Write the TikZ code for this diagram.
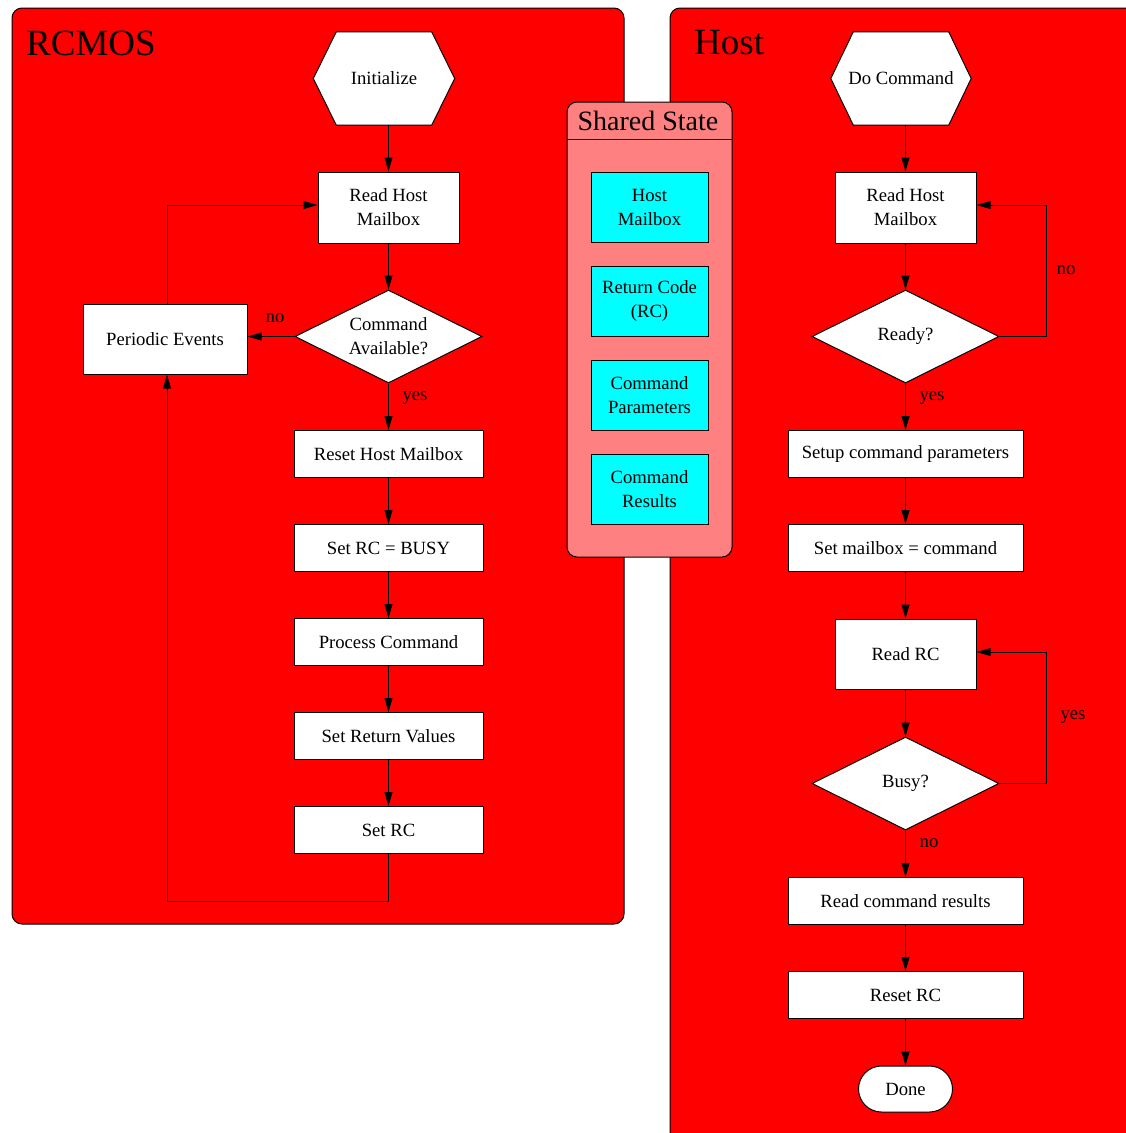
\documentclass[tikz,border=0pt]{standalone}
\usepackage{fontspec}
\setmainfont{Liberation Serif}
\usetikzlibrary{arrows.meta,shapes.geometric}
\pgfdeclarelayer{shapes}
\pgfsetlayers{shapes,main}
\definecolor{panelred}{HTML}{FF0000}
\definecolor{sharedfill}{HTML}{FF8080}
\definecolor{slotcyan}{HTML}{00FFFF}
\tikzset{
  bodyfont/.style={font=\fontsize{18.67pt}{24pt}\selectfont},
  stepbox/.style={bodyfont, draw=black, fill=white, line width=1pt, rectangle,
    inner sep=0pt, align=center, minimum height=47pt},
  widebox/.style={stepbox, minimum width=189pt},
  tallbox/.style={stepbox, minimum width=141pt, minimum height=71pt},
  slot/.style={stepbox, fill=slotcyan, minimum width=117pt, minimum height=70pt},
  decision/.style={bodyfont, draw=black, fill=white, line width=1pt, diamond,
    aspect=2, inner sep=0pt, align=center, minimum width=187pt, minimum height=93pt},
  hexnode/.style={bodyfont, rectangle, inner sep=0pt, align=center,
    minimum width=141pt, minimum height=93pt},
  hexline/.style={draw=black, fill=white, line width=1pt},
  terminal/.style={stepbox, rounded corners=23pt, minimum width=94pt, minimum height=46pt},
  lbl/.style={bodyfont, inner sep=0pt},
  arr/.style={draw=black, line width=1pt, -{Triangle[length=14pt,width=8pt]}},
  panel/.style={draw=black, fill=panelred, line width=1pt, rounded corners=10pt},
  paneltitle/.style={font=\fontsize{37pt}{40pt}\selectfont, inner sep=0pt, anchor=west},
}
\begin{document}
\begin{tikzpicture}[x=1pt,y=-1pt]
\useasboundingbox (0,0) rectangle (1126,1133);

% page and swim lanes
\begin{pgfonlayer}{shapes}
  \fill[white] (0,0) rectangle (1126,1133);
  \begin{scope}
    \clip (0,0) rectangle (1126,1133);
    \path[panel] (12,8) rectangle (624,924);
    \path[panel] (670,8) rectangle (1150,1150);
  \end{scope}
\end{pgfonlayer}
\node[paneltitle] (rcmosT) at (26,43) {RCMOS};
\node[paneltitle] (hostT) at (694,43) {Host};

% shared state container
\path[draw=black, fill=sharedfill, line width=1pt, rounded corners=10pt]
  (567,102) rectangle (732,557);
\draw[line width=1pt] (567,139) -- (732,139);
\node[font=\fontsize{28pt}{30pt}\selectfont, inner sep=0pt] (sharedT) at (648,121) {Shared State};
\node[slot] (sMail) at (649.5,207) {Host\\Mailbox};
\node[slot] (sRC)   at (649.5,301) {Return Code\\(RC)};
\node[slot] (sPar)  at (649.5,395) {Command\\Parameters};
\node[slot] (sRes)  at (649.5,489) {Command\\Results};

% ---- RCMOS side ----
\node[hexnode] (init) at (384,78.5) {Initialize};
\node[tallbox] (rhmL) at (388.5,207.5) {Read Host\\Mailbox};
\node[decision] (cmdA) at (388.5,336.5) {Command\\Available?};
\node[stepbox, minimum width=164pt, minimum height=70pt] (pe) at (165,339) {Periodic Events};
\node[widebox] (rstMb)  at (388.5,454) {Reset Host Mailbox};
\node[widebox] (setBusy) at (388.5,548) {Set RC = BUSY};
\node[widebox] (proc)   at (388.5,642) {Process Command};
\node[widebox] (setRet) at (388.5,736) {Set Return Values};
\node[widebox] (setRC)  at (388.5,830) {Set RC};

% ---- Host side ----
\node[hexnode, minimum width=140pt] (doCmd) at (901,78.5) {Do Command};
\node[tallbox] (rhmR) at (905.5,207.5) {Read Host\\Mailbox};
\node[decision] (ready) at (905.5,336.5) {Ready?};
\node[stepbox, minimum width=235pt] (setup) at (905.5,454) {Setup command parameters};
\node[stepbox, minimum width=235pt] (setMb) at (905.5,548) {Set mailbox = command};
\node[tallbox, minimum height=70pt] (readRC) at (905.5,654) {Read RC};
\node[decision] (busyQ) at (905.5,783.5) {Busy?};
\node[stepbox, minimum width=235pt] (readRes) at (905.5,901) {Read command results};
\node[stepbox, minimum width=235pt] (rstRC) at (905.5,995) {Reset RC};
\node[terminal] (done) at (905.5,1089) {Done};

% hexagon outlines behind their labels
\begin{pgfonlayer}{shapes}
  \path[hexline] (init.west) -- ([xshift=23pt]init.north west) -- ([xshift=-23pt]init.north east)
    -- (init.east) -- ([xshift=-23pt]init.south east) -- ([xshift=23pt]init.south west) -- cycle;
  \path[hexline] (doCmd.west) -- ([xshift=22.5pt]doCmd.north west) -- ([xshift=-22.5pt]doCmd.north east)
    -- (doCmd.east) -- ([xshift=-22.5pt]doCmd.south east) -- ([xshift=22.5pt]doCmd.south west) -- cycle;
\end{pgfonlayer}

% RCMOS flow
\draw[arr] (init.south -| rhmL.north) -- (rhmL.north);
\draw[arr] (rhmL.south) -- (cmdA.north);
\draw[arr] (cmdA.west) -- (cmdA.west -| pe.east);
\draw[arr] ([xshift=2pt]pe.north) |- ([yshift=2.5pt]rhmL.west);
\draw[arr] (cmdA.south) -- (rstMb.north);
\draw[arr] (rstMb.south) -- (setBusy.north);
\draw[arr] (setBusy.south) -- (proc.north);
\draw[arr] (proc.south) -- (setRet.north);
\draw[arr] (setRet.south) -- (setRC.north);
\draw[arr] (setRC.south) -- ++(0,47) -| ([xshift=2pt]pe.south);
\node[lbl] (noL) at (275,318) {no};
\node[lbl] (yesL) at (415,398) {yes};

% Host flow
\draw[arr] (doCmd.south -| rhmR.north) -- (rhmR.north);
\draw[arr] (rhmR.south) -- (ready.north);
\draw[arr] (ready.east) -- ++(47,0) |- ([yshift=2.5pt]rhmR.east);
\draw[arr] (ready.south) -- (setup.north);
\draw[arr] (setup.south) -- (setMb.north);
\draw[arr] (setMb.south) -- (readRC.north);
\draw[arr] (readRC.south) -- (busyQ.north);
\draw[arr] (busyQ.east) -- ++(47,0) |- ([yshift=2pt]readRC.east);
\draw[arr] (busyQ.south) -- (readRes.north);
\draw[arr] (readRes.south) -- (rstRC.north);
\draw[arr] (rstRC.south) -- (done.north);
\node[lbl] (noR) at (1066,270) {no};
\node[lbl] (yesR) at (932,398) {yes};
\node[lbl] (yesB) at (1073,717) {yes};
\node[lbl] (noB) at (929,843) {no};
\end{tikzpicture}
\end{document}
